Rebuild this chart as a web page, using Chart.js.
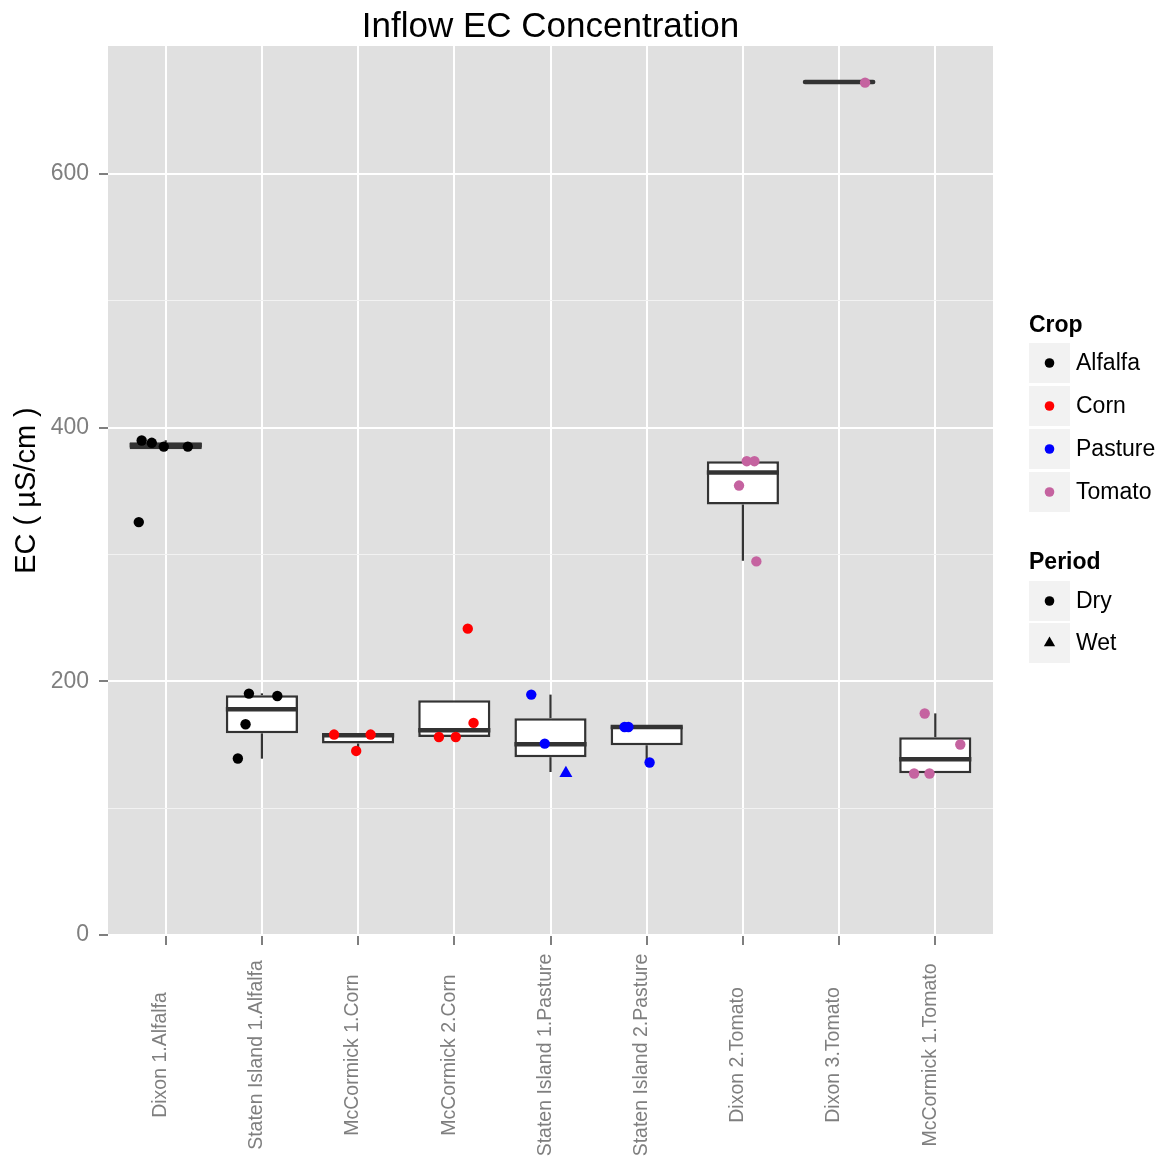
<!DOCTYPE html>
<html>
<head>
<meta charset="utf-8">
<script src="https://cdn.jsdelivr.net/npm/chart.js@4.4.1/dist/chart.umd.min.js"></script>
<style>
  html, body { margin: 0; padding: 0; background: #fff; }
  #wrap { width: 1164px; height: 1160px; position: relative; }
</style>
</head>
<body>
<div id="wrap"><canvas id="myChartEC"></canvas></div>
<script>
// sites along the x axis
const categories = ['Dixon 1.Alfalfa', 'Staten Island 1.Alfalfa', 'McCormick 1.Corn', 'McCormick 2.Corn',
  'Staten Island 1.Pasture', 'Staten Island 2.Pasture', 'Dixon 2.Tomato', 'Dixon 3.Tomato', 'McCormick 1.Tomato']

// box statistics (uS/cm)
const whiskerLow = [383, 139, 145.5, 156, 128.5, 136, 295, 672.4, 127.5]
const q1 = [383, 159, 151, 156, 140.2, 149.6, 339.4, 672.4, 127.5]
const median = [386, 178, 157.5, 161.4, 150.4, 164, 364.6, 672.4, 138.6]
const q3 = [388.5, 189, 159, 185, 170.9, 164.6, 373.5, 672.4, 155.9]
const whiskerHigh = [390, 190.5, 159, 185, 189.5, 164.6, 373.5, 672.4, 174.7]

// jittered observations
const pointCategory = [0, 0, 0, 0, 0, 1, 1, 1, 1, 2, 2, 2, 3, 3, 3, 3, 4, 4, 4, 5, 5, 5, 6, 6, 6, 6, 7, 8, 8, 8, 8]
const pointJitter = [-0.25, -0.145, -0.02, 0.23, -0.28, -0.135, 0.16, -0.17, -0.25, -0.25, 0.13, -0.02,
  0.14, 0.2, -0.16, 0.015, -0.2, -0.06, 0.16, -0.23, -0.19, 0.03, 0.04, 0.12, -0.04, 0.14, 0.27,
  -0.11, 0.26, -0.22, -0.06]
const pointValue = [389.8, 388, 385, 385, 325.5, 190.3, 188.4, 166.1, 139.1, 158, 158, 145.1,
  241.5, 167.2, 156.1, 156.1, 189.5, 150.9, 127.5, 164, 164, 136, 373.5, 373.5, 354.3, 294.5, 671.9,
  174.6, 150.2, 127.3, 127.3]
const pointCrop = [0, 0, 0, 0, 0, 0, 0, 0, 0, 1, 1, 1, 1, 1, 1, 1, 2, 2, 2, 2, 2, 2, 3, 3, 3, 3, 3, 3, 3, 3, 3]
const pointPeriod = [0, 0, 0, 0, 0, 0, 0, 0, 0, 0, 0, 0, 0, 0, 0, 0, 0, 0, 1, 0, 0, 0, 0, 0, 0, 0, 0, 0, 0, 0, 0]

const crops = ['Alfalfa', 'Corn', 'Pasture', 'Tomato']
const cropColors = ['#000000', '#FF0000', '#0000FF', '#C563A0']
const periods = ['Dry', 'Wet']
const periodShapes = ['circle', 'triangle']

const fontFam = '"Liberation Sans", Arial, Helvetica, sans-serif'
Chart.defaults.font.family = fontFam

const ctxEC = document.getElementById('myChartEC')

let datasets = []
datasets.push({
  type: 'bar',
  label: 'box',
  data: categories.map((c, i) => ({ x: i + 1, y: [q1[i], q3[i]] })),
  backgroundColor: '#FFFFFF',
  borderColor: '#333333',
  borderWidth: 2.5,
  borderSkipped: false,
  barPercentage: 0.75,
  categoryPercentage: 1,
  order: 2
})

for (let c = 0; c < crops.length; c++) {
  for (let p = 0; p < periods.length; p++) {
    let pts = []
    for (let k = 0; k < pointValue.length; k++) {
      if (pointCrop[k] === c && pointPeriod[k] === p) {
        pts.push({ x: pointCategory[k] + 1 + pointJitter[k], y: pointValue[k] })
      }
    }
    if (pts.length === 0) continue
    datasets.push({
      type: 'scatter',
      label: crops[c] + ' ' + periods[p],
      data: pts,
      pointStyle: periodShapes[p],
      pointRadius: p === 1 ? 7.5 : 5.2,
      backgroundColor: cropColors[c],
      borderWidth: 0,
      order: 1
    })
  }
}

// panel background
const panelBg = {
  id: 'panelBg',
  beforeDraw(chart) {
    const a = chart.chartArea
    const ctx = chart.ctx
    ctx.save()
    ctx.fillStyle = '#E0E0E0'
    ctx.fillRect(a.left, a.top, a.right - a.left, a.bottom - a.top)
    ctx.restore()
  }
}

// whiskers and medians, after the boxes and before the points
const boxLines = {
  id: 'boxLines',
  afterDatasetDraw(chart, args) {
    if (args.index !== 0) return
    const xs = chart.scales.x
    const ys = chart.scales.y
    const ctx = chart.ctx
    const half = xs.getPixelForValue(1.375) - xs.getPixelForValue(1)
    ctx.save()
    ctx.strokeStyle = '#333333'
    for (let i = 0; i < categories.length; i++) {
      const cx = xs.getPixelForValue(i + 1)
      ctx.lineWidth = 2.2
      ctx.lineCap = 'butt'
      if (whiskerLow[i] < q1[i]) {
        ctx.beginPath()
        ctx.moveTo(cx, ys.getPixelForValue(q1[i]))
        ctx.lineTo(cx, ys.getPixelForValue(whiskerLow[i]))
        ctx.stroke()
      }
      if (whiskerHigh[i] > q3[i]) {
        ctx.beginPath()
        ctx.moveTo(cx, ys.getPixelForValue(q3[i]))
        ctx.lineTo(cx, ys.getPixelForValue(whiskerHigh[i]))
        ctx.stroke()
      }
      ctx.lineWidth = 4.5
      ctx.lineCap = q1[i] === q3[i] ? 'round' : 'butt'
      ctx.beginPath()
      const my = ys.getPixelForValue(median[i])
      ctx.moveTo(cx - half + (q1[i] === q3[i] ? 2 : 0), my)
      ctx.lineTo(cx + half - (q1[i] === q3[i] ? 2 : 0), my)
      ctx.stroke()
    }
    ctx.restore()
  }
}

// title, axis title, x labels and legend
const decor = {
  id: 'decor',
  afterDraw(chart) {
    const ctx = chart.ctx
    const a = chart.chartArea
    const xs = chart.scales.x
    ctx.save()
    ctx.fillStyle = '#000000'
    ctx.font = '35px ' + fontFam
    ctx.textAlign = 'center'
    ctx.textBaseline = 'alphabetic'
    ctx.fillText('Inflow EC Concentration', (a.left + a.right) / 2, 37)

    ctx.save()
    ctx.translate(27, (a.top + a.bottom) / 2)
    ctx.rotate(-Math.PI / 2)
    ctx.font = '29px ' + fontFam
    ctx.textBaseline = 'middle'
    ctx.fillText('EC ( \u00B5S/cm )', 0, 0)
    ctx.restore()

    ctx.fillStyle = '#7F7F7F'
    ctx.font = '19.5px ' + fontFam
    for (let i = 0; i < categories.length; i++) {
      ctx.save()
      ctx.translate(xs.getPixelForValue(i + 1) - 5, 1055)
      ctx.rotate(-Math.PI / 2)
      ctx.textAlign = 'center'
      ctx.textBaseline = 'middle'
      ctx.fillText(categories[i], 0, 0)
      ctx.restore()
    }

    // legend
    const lx = 1029
    ctx.textAlign = 'left'
    ctx.fillStyle = '#000000'
    ctx.font = 'bold 23px ' + fontFam
    ctx.textBaseline = 'alphabetic'
    ctx.fillText('Crop', lx, 332)
    ctx.fillText('Period', lx, 569)
    const keyRow = (cy, label, color, shape) => {
      ctx.fillStyle = '#F2F2F2'
      ctx.fillRect(lx, cy - 20, 41, 40)
      ctx.fillStyle = color
      ctx.beginPath()
      if (shape === 'triangle') {
        const r = 6.5
        ctx.moveTo(lx + 20.5, cy - r)
        ctx.lineTo(lx + 20.5 + r * 0.866, cy + r / 2)
        ctx.lineTo(lx + 20.5 - r * 0.866, cy + r / 2)
        ctx.closePath()
      } else {
        ctx.arc(lx + 20.5, cy, 4.8, 0, Math.PI * 2)
      }
      ctx.fill()
      ctx.fillStyle = '#000000'
      ctx.font = '23px ' + fontFam
      ctx.textBaseline = 'middle'
      ctx.fillText(label, lx + 47, cy + 1)
    }
    crops.forEach((c, i) => keyRow(363 + i * 43, c, cropColors[i], 'circle'))
    periods.forEach((p, i) => keyRow(601 + i * 42, p, '#000000', periodShapes[i]))
    ctx.restore()
  }
}

new Chart(ctxEC, {
  type: 'scatter',
  data: { datasets: datasets },
  options: {
    responsive: true,
    maintainAspectRatio: false,
    animation: false,
    events: [],
    layout: { padding: { top: 46, right: 171, left: 0, bottom: 0 } },
    plugins: {
      legend: { display: false },
      tooltip: { enabled: false }
    },
    scales: {
      x: {
        type: 'linear',
        min: 0.4,
        max: 9.6,
        offset: false,
        afterBuildTicks: s => { s.ticks = categories.map((c, i) => ({ value: i + 1 })) },
        ticks: { display: false },
        grid: { offset: false, color: '#FFFFFF', lineWidth: 2, tickColor: '#7F7F7F', tickLength: 10, tickWidth: 2 },
        border: { display: false },
        afterFit: s => { s.height = 225 }
      },
      y: {
        min: 0,
        max: 700.8,
        afterBuildTicks: s => { s.ticks = [0, 100, 200, 300, 400, 500, 600].map(v => ({ value: v })) },
        ticks: {
          callback: v => (v % 200 === 0 ? v : ''),
          font: { size: 23 },
          color: '#7F7F7F',
          padding: 10
        },
        grid: {
          color: c => (c.tick && c.tick.value % 200 === 0 ? '#FFFFFF' : '#F2F2F2'),
          lineWidth: c => (c.tick && c.tick.value % 200 === 0 ? 2 : 1),
          tickColor: c => (c.tick && c.tick.value % 200 === 0 ? '#7F7F7F' : 'rgba(0,0,0,0)'),
          tickLength: 9,
          tickWidth: 2
        },
        border: { display: false },
        afterFit: s => { s.width = 108 }
      }
    }
  },
  plugins: [panelBg, boxLines, decor]
})
</script>
</body>
</html>
